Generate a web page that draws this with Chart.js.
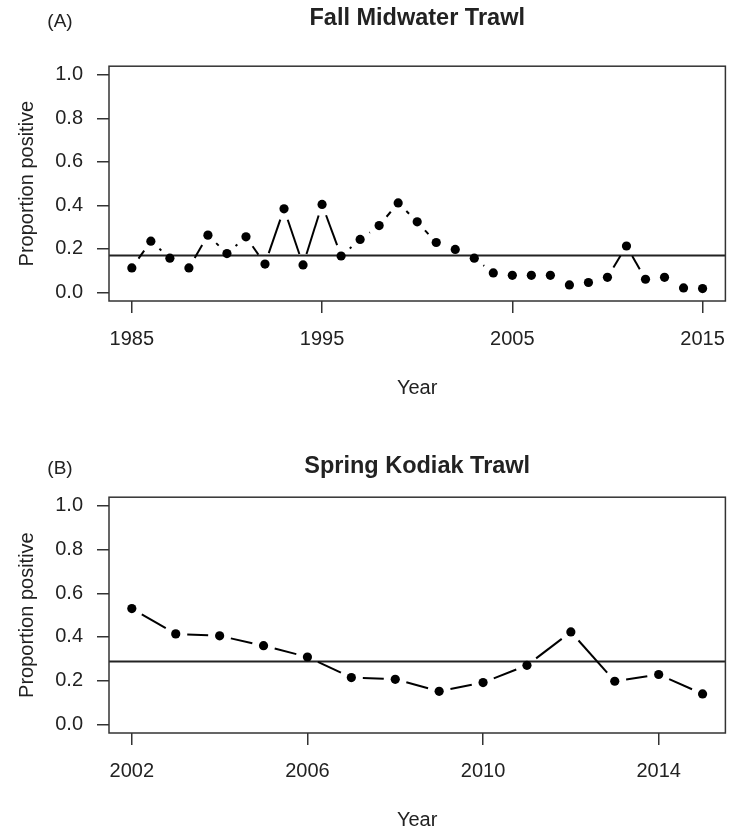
<!DOCTYPE html>
<html>
<head>
<meta charset="utf-8">
<title>Proportion positive by survey</title>
<script src="https://cdn.jsdelivr.net/npm/chart.js@4.4.1/dist/chart.umd.min.js"></script>
<style>
  html, body { margin: 0; padding: 0; background: #fff; }
  .panel { position: absolute; left: 0; width: 730px; }
  #panelA { top: 0; height: 417px; }
  #panelB { top: 417px; height: 418px; }
</style>
</head>
<body>
<div class="panel" id="panelA"><canvas id="chartA"></canvas></div>
<div class="panel" id="panelB"><canvas id="chartB"></canvas></div>
<script>
// Fall Midwater Trawl
var fallYears = [1985, 1986, 1987, 1988, 1989, 1990, 1991, 1992, 1993, 1994,
                 1995, 1996, 1997, 1998, 1999, 2000, 2001, 2002, 2003, 2004,
                 2005, 2006, 2007, 2008, 2009, 2010, 2011, 2012, 2013, 2014, 2015];
var fallProp = [0.112, 0.235, 0.157, 0.112, 0.263, 0.178, 0.255, 0.130, 0.384, 0.126,
                0.404, 0.167, 0.243, 0.307, 0.411, 0.324, 0.229, 0.197, 0.157, 0.089,
                0.078, 0.078, 0.078, 0.034, 0.045, 0.069, 0.213, 0.060, 0.069, 0.020, 0.017];
var fallMean = 0.169;
var fallTicks = [1985, 1995, 2005, 2015];

// Spring Kodiak Trawl
var springYears = [2002, 2003, 2004, 2005, 2006, 2007, 2008, 2009, 2010, 2011,
                   2012, 2013, 2014, 2015];
var springProp = [0.530, 0.414, 0.405, 0.360, 0.308, 0.214, 0.206, 0.151, 0.191, 0.270,
                  0.423, 0.197, 0.228, 0.139];
var springMean = 0.288;
var springTicks = [2002, 2006, 2010, 2014];

var propTicks = [0, 0.2, 0.4, 0.6, 0.8, 1.0];

var FONT = '"Liberation Sans", Arial, Helvetica, sans-serif';
var INK = '#222';
var GAP = 11.5; // blank space left around each point, like R's type = "b"

// each segment is drawn only in its middle part, leaving GAP px at both ends
function gappedDash(ctx) {
    var dx = ctx.p1.x - ctx.p0.x, dy = ctx.p1.y - ctx.p0.y;
    var len = Math.sqrt(dx * dx + dy * dy);
    if (len <= 2 * GAP) return [0, len + 1];
    return [0, GAP, len - 2 * GAP, GAP];
}

// frame round the plotting region + the (A)/(B) tag
var framePlugin = {
    id: 'frame',
    afterDraw: function(chart, args, opts) {
        var a = chart.chartArea, c = chart.ctx;
        c.save();
        c.strokeStyle = '#333';
        c.lineWidth = 1.5;
        c.strokeRect(a.left, a.top, a.right - a.left, a.bottom - a.top);
        c.fillStyle = INK;
        c.font = '19px ' + FONT;
        c.textAlign = 'center';
        c.textBaseline = 'alphabetic';
        c.fillText(opts.tag, opts.tagX, opts.tagY);
        c.restore();
    }
};

function makePanel(id, p) {
    var pts = p.years.map(function(y, i) { return {x: y, y: p.values[i]}; });
    var xPad = (p.years[p.years.length - 1] - p.years[0]) * 0.04;
    var xMin = p.years[0] - xPad, xMax = p.years[p.years.length - 1] + xPad;

    return new Chart(document.getElementById(id), {
        type: 'line',
        data: {
            datasets: [{
                data: pts,
                borderColor: '#000',
                borderWidth: 2,
                tension: 0,
                pointRadius: 4.6,
                pointBorderWidth: 0,
                pointBackgroundColor: '#000',
                segment: { borderDash: gappedDash }
            }, {
                data: [{x: xMin, y: p.mean}, {x: xMax, y: p.mean}],
                borderColor: '#222',
                borderWidth: 2,
                pointRadius: 0
            }]
        },
        options: {
            responsive: true,
            maintainAspectRatio: false,
            animation: false,
            events: [],
            layout: { padding: { left: 0, right: 4, top: 0, bottom: 0 } },
            plugins: {
                legend: { display: false },
                tooltip: { enabled: false },
                title: {
                    display: true,
                    text: p.title,
                    fullSize: false,
                    color: INK,
                    font: { family: FONT, size: 23.5, weight: 'bold' },
                    padding: p.titlePad
                },
                frame: { tag: p.tag, tagX: 60, tagY: p.tagY }
            },
            scales: {
                x: {
                    type: 'linear',
                    min: xMin,
                    max: xMax,
                    afterBuildTicks: function(s) {
                        s.ticks = p.xTicks.map(function(v) { return {value: v}; });
                    },
                    afterFit: function(s) {
                        s.height = p.xHeight;
                        s.paddingLeft = 0;
                        s.paddingRight = 0;
                    },
                    border: { display: false },
                    grid: { drawOnChartArea: false, tickLength: 12, color: '#333', lineWidth: 1.5 },
                    ticks: {
                        color: INK,
                        padding: 14,
                        maxRotation: 0,
                        font: { family: FONT, size: 20 },
                        callback: function(v) { return String(v); }
                    },
                    title: {
                        display: true,
                        text: 'Year',
                        color: INK,
                        font: { family: FONT, size: 20 },
                        padding: { top: 0, bottom: p.xTitlePad }
                    }
                },
                y: {
                    min: -0.04,
                    max: 1.04,
                    afterBuildTicks: function(s) {
                        s.ticks = propTicks.map(function(v) { return {value: v}; });
                    },
                    afterFit: function(s) {
                        s.width = 109;
                        s.paddingTop = 0;
                        s.paddingBottom = 0;
                    },
                    border: { display: false },
                    grid: { drawOnChartArea: false, tickLength: 12, color: '#333', lineWidth: 1.5 },
                    ticks: {
                        color: INK,
                        padding: 14,
                        font: { family: FONT, size: 20 },
                        callback: function(v) { return v.toFixed(1); }
                    },
                    title: {
                        display: true,
                        text: 'Proportion positive',
                        color: INK,
                        font: { family: FONT, size: 20 },
                        padding: { top: 15, bottom: 0 }
                    }
                }
            }
        },
        plugins: [framePlugin]
    });
}

makePanel('chartA', {
    years: fallYears, values: fallProp, mean: fallMean, xTicks: fallTicks,
    title: 'Fall Midwater Trawl', tag: '(A)', tagY: 27,
    titlePad: { top: 4, bottom: 34 }, xHeight: 116, xTitlePad: 17
});

makePanel('chartB', {
    years: springYears, values: springProp, mean: springMean, xTicks: springTicks,
    title: 'Spring Kodiak Trawl', tag: '(B)', tagY: 57,
    titlePad: { top: 35, bottom: 17 }, xHeight: 102, xTitlePad: 3
});
</script>
</body>
</html>
